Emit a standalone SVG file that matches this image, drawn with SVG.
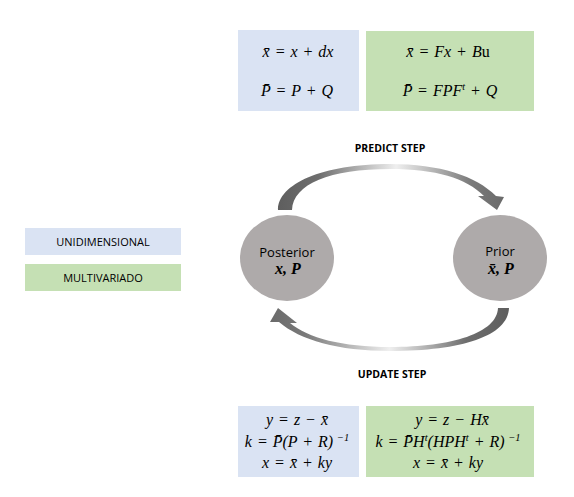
<svg xmlns="http://www.w3.org/2000/svg" width="574" height="497" viewBox="0 0 574 497">
<style>
.blue{fill:#DAE3F3}
.green{fill:#C5E0B4}
.lbl{font-family:"Open Sans","Liberation Sans",sans-serif;font-size:11px;fill:#000;text-anchor:middle}
.step{font-family:"Open Sans","Liberation Sans",sans-serif;font-size:10.5px;font-weight:bold;fill:#000;text-anchor:middle}
.node{fill:#AEAAAA}
.nt{font-family:"Open Sans","Liberation Sans",sans-serif;font-size:13px;fill:#000;text-anchor:middle}
.nm{font-family:"Liberation Serif","DejaVu Serif",serif;font-size:16px;font-weight:bold;font-style:italic;fill:#000;text-anchor:middle}
.eq{font-family:"Liberation Serif","DejaVu Serif",serif;font-size:16px;font-style:italic;fill:#000;text-anchor:middle;word-spacing:1px}
.up{font-style:normal}
</style>
<defs>
<linearGradient id="gTop" gradientUnits="userSpaceOnUse" x1="278" y1="0" x2="505" y2="0">
<stop offset="0" stop-color="#5E5E5E"/>
<stop offset="0.18" stop-color="#6E6E6E"/>
<stop offset="0.52" stop-color="#EFEFEF"/>
<stop offset="0.85" stop-color="#7A7A7A"/>
<stop offset="1" stop-color="#6A6A6A"/>
</linearGradient>
<linearGradient id="gBot" gradientUnits="userSpaceOnUse" x1="509" y1="0" x2="270" y2="0">
<stop offset="0" stop-color="#5E5E5E"/>
<stop offset="0.18" stop-color="#6E6E6E"/>
<stop offset="0.5" stop-color="#EFEFEF"/>
<stop offset="0.85" stop-color="#7A7A7A"/>
<stop offset="1" stop-color="#6A6A6A"/>
</linearGradient>
</defs>

<g id="eq-predict-uni">
<rect class="blue" x="238" y="30" width="121" height="81"/>
<text class="eq" x="298" y="57">x̄ = x + dx</text>
<text class="eq" x="297" y="96">P̄ = P + Q</text>
</g>
<g id="eq-predict-multi">
<rect class="green" x="366" y="31" width="168" height="80"/>
<text class="eq" x="448" y="57">x̄ = Fx + B<tspan class="up">u</tspan></text>
<text class="eq" x="450" y="96">P̄ = FPF<tspan font-size="10" dy="-6">t</tspan><tspan dy="6"> + Q</tspan></text>
</g>

<g id="legend-uni">
<rect class="blue" x="25" y="228" width="156" height="27"/>
<text class="lbl" x="103" y="245.5">UNIDIMENSIONAL</text>
</g>
<g id="legend-multi">
<rect class="green" x="25" y="264" width="156" height="27"/>
<text class="lbl" x="103" y="281.5">MULTIVARIADO</text>
</g>

<g id="connectors">
<path fill="url(#gTop)" d="M278,210 C278,184 322,164 390,164 C440,164 476,176 496,196 L504,197 L497,210 L478,196 L484,196 C466,178 436,169 390,169 C330,169 293,184 292,210 Z"/>
<path fill="url(#gBot)" d="M498,308 L509,308 C508,336 462,351 390,351 C338,351 300,340 279,322 L270,322 L278,308 L297,323 L290,323 C308,338 342,347 390,347 C452,347 497,333 498,308 Z"/>
<text class="step" x="390" y="152">PREDICT STEP</text>
<text class="step" x="392" y="378">UPDATE STEP</text>
</g>

<g id="posterior">
<ellipse class="node" cx="287" cy="258" rx="47" ry="43"/>
<text class="nt" x="287" y="257">Posterior</text>
<text class="nm" x="288" y="274">x, P</text>
</g>
<g id="prior">
<ellipse class="node" cx="500" cy="258" rx="47" ry="43"/>
<text class="nt" x="500" y="256">Prior</text>
<text class="nm" x="501" y="274">x̄, P</text>
</g>

<g id="eq-update-uni">
<rect class="blue" x="238" y="406" width="121" height="71"/>
<text class="eq" x="297" y="425">y = z − x̄</text>
<text class="eq" x="297" y="447">k  =  P̄(P + R)<tspan font-size="10.5" dy="-6"> −1</tspan></text>
<text class="eq" x="297" y="468">x =  x̄ + ky</text>
</g>
<g id="eq-update-multi">
<rect class="green" x="366" y="406" width="168" height="71"/>
<text class="eq" x="452" y="425">y = z − Hx̄</text>
<text class="eq" x="448" y="447">k = P̄H<tspan font-size="10.5" dy="-6">t</tspan><tspan dy="6">(HPH</tspan><tspan font-size="10.5" dy="-6">t</tspan><tspan dy="6"> + R)</tspan><tspan font-size="10.5" dy="-6"> −1</tspan></text>
<text class="eq" x="448" y="468">x =  x̄ + ky</text>
</g>
</svg>
